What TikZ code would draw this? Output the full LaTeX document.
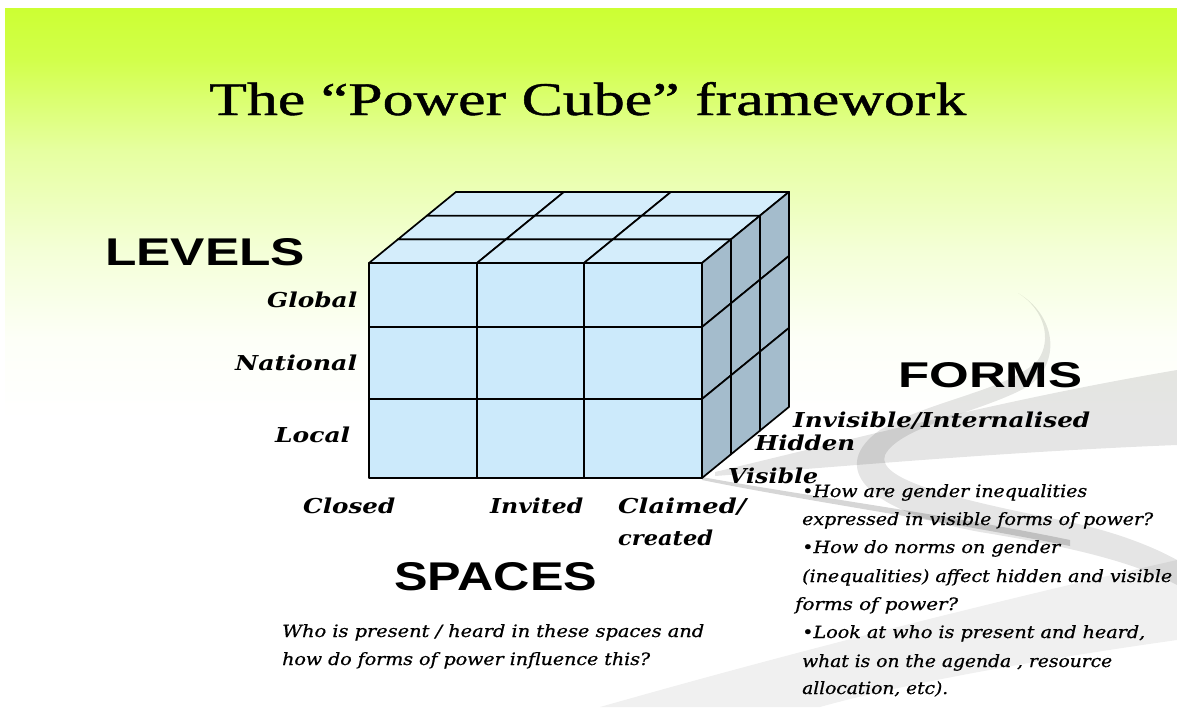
\documentclass[tikz,border=0pt]{standalone}
\usepackage{fontspec}
\usepackage{graphicx}
\setmainfont{Liberation Serif}
\newfontfamily\titlef[FakeBold=0.8]{Liberation Serif}
\newfontfamily\headf{Liberation Sans}
\newfontfamily\labf{DejaVu Serif}
\newfontfamily\txtf[FakeBold=0.7]{DejaVu Serif}
\newcommand\fitw[2]{\resizebox{#1pt}{\height}{#2}}
\newcommand\fitwh[3]{\resizebox{#1pt}{#2pt}{#3}}
\newcommand\lab[1]{{\labf\bfseries\itshape\fontsize{20.5}{24}\selectfont #1}}
\newcommand\txt[1]{{\txtf\itshape\fontsize{17}{20}\selectfont #1}}
\definecolor{bgA}{RGB}{204,255,51}
\definecolor{bgB}{RGB}{210,255,75}
\definecolor{bgC}{RGB}{230,255,160}
\definecolor{bgD}{RGB}{244,255,215}
\definecolor{bgE}{RGB}{253,255,248}
\definecolor{frontc}{RGB}{204,234,251}
\definecolor{topc}{RGB}{212,237,251}
\definecolor{sidec}{RGB}{164,188,204}
\tikzset{
  cellline/.style={draw=black, line width=1.7pt, line join=round},
  frontcell/.style={cellline, fill=frontc},
  topcell/.style={cellline, fill=topc},
  sidecell/.style={cellline, fill=sidec},
  txtline/.style={anchor=base west, inner sep=0pt},
  swoosh/.style={fill=black, fill opacity=0.10},
}
\begin{document}
\begin{tikzpicture}[x=1pt,y=-1pt]
\useasboundingbox (0,0) rectangle (1177,707);
\fill[white] (0,0) rectangle (1177,707);
% background gradient
\shade[top color=bgA, bottom color=bgB] (5,8) rectangle (1177,60.5);
\shade[top color=bgB, bottom color=bgC] (5,60) rectangle (1177,150.5);
\shade[top color=bgC, bottom color=bgD] (5,150) rectangle (1177,250.5);
\shade[top color=bgD, bottom color=bgE] (5,250) rectangle (1177,340.5);
\shade[top color=bgE, bottom color=white] (5,340) rectangle (1177,420);
% swooshes
\fill[swoosh] (715,472) .. controls (850,440) and (1000,400) .. (1177,370) -- (1177,445) .. controls (1000,452) and (850,466) .. (715,476) -- cycle;
\fill[swoosh, fill opacity=0.06] (600,707) .. controls (800,650) and (1000,600) .. (1177,560) -- (1177,640) .. controls (1000,665) and (880,690) .. (820,707) -- cycle;
\fill[swoosh] (1018,293) .. controls (1055,315) and (1062,360) .. (1030,385) .. controls (990,410) and (900,425) .. (885,455) .. controls (875,480) and (960,500) .. (1060,520) .. controls (1110,530) and (1150,545) .. (1177,560) -- (1177,585) .. controls (1130,560) and (1060,545) .. (980,532) .. controls (860,510) and (830,465) .. (880,430) .. controls (930,400) and (1010,390) .. (1038,360) .. controls (1052,340) and (1045,310) .. cycle;
\fill[swoosh, fill opacity=0.16] (702,477) .. controls (800,495) and (950,515) .. (1070,540) -- (1070,546) .. controls (950,522) and (800,500) .. (702,480) -- cycle;
% cube: top face
\foreach \xa/\xb in {369/477,477/584,584/702}{
  \foreach \k in {0,1,2}{
    \filldraw[topcell] ({\xa+\k*29},{263-\k*23.7}) -- ({\xb+\k*29},{263-\k*23.7}) -- ({\xb+\k*29+29},{263-\k*23.7-23.7}) -- ({\xa+\k*29+29},{263-\k*23.7-23.7}) -- cycle;
  }
}
% right face
\foreach \ya/\yb in {263/327,327/399,399/478}{
  \foreach \k in {0,1,2}{
    \filldraw[sidecell] ({702+\k*29},{\ya-\k*23.7}) -- ({702+\k*29+29},{\ya-\k*23.7-23.7}) -- ({702+\k*29+29},{\yb-\k*23.7-23.7}) -- ({702+\k*29},{\yb-\k*23.7}) -- cycle;
  }
}
% front face
\foreach \xa/\xb in {369/477,477/584,584/702}{
  \foreach \ya/\yb in {263/327,327/399,399/478}{
    \filldraw[frontcell] (\xa,\ya) rectangle (\xb,\yb);
  }
}
% title
\node[txtline] (title) at (209,115) {\fitwh{757}{33}{\titlef The “Power Cube” framework}};
% headings
\node[txtline] (levels) at (105,265) {\fitwh{200}{27}{\headf\bfseries LEVELS}};
\node[txtline] (forms) at (898,387) {\fitwh{184}{25}{\headf\bfseries FORMS}};
\node[txtline] (spaces) at (394,590) {\fitwh{203}{28}{\headf\bfseries SPACES}};
% levels
\node[txtline] (global) at (267,307) {\fitw{90}{\lab{Global}}};
\node[txtline] (national) at (235,370) {\fitw{122}{\lab{National}}};
\node[txtline] (local) at (275,442) {\fitw{75}{\lab{Local}}};
% spaces
\node[txtline] (closed) at (303,513) {\fitw{92}{\lab{Closed}}};
\node[txtline] (invited) at (490,513) {\fitw{93}{\lab{Invited}}};
\node[txtline] (claimed) at (618,513) {\fitw{128}{\lab{Claimed/}}};
\node[txtline] (created) at (618,545) {\fitw{95}{\lab{created}}};
% forms
\node[txtline] (invisible) at (793,427) {\fitw{297}{\lab{Invisible/Internalised}}};
\node[txtline] (hidden) at (755,450) {\fitw{100}{\lab{Hidden}}};
\node[txtline] (visible) at (728,483) {\fitw{90}{\lab{Visible}}};
% forms questions
\node[txtline] (q1) at (802,497) {\fitw{285}{\txt{•How are gender inequalities}}};
\node[txtline] (q2) at (802,525) {\fitw{351}{\txt{expressed in visible forms of power?}}};
\node[txtline] (q3) at (802,553) {\fitw{258}{\txt{•How do norms on gender}}};
\node[txtline] (q4) at (802,582) {\fitw{370}{\txt{(inequalities) affect hidden and visible}}};
\node[txtline] (q5) at (795,610) {\fitw{163}{\txt{forms of power?}}};
\node[txtline] (q6) at (802,638) {\fitw{343}{\txt{•Look at who is present and heard,}}};
\node[txtline] (q7) at (802,667) {\fitw{310}{\txt{what is on the agenda , resource}}};
\node[txtline] (q8) at (802,694) {\fitw{146}{\txt{allocation, etc).}}};
% spaces question
\node[txtline] (s1) at (282,637) {\fitw{422}{\txt{Who is present / heard in these spaces and}}};
\node[txtline] (s2) at (282,665) {\fitw{368}{\txt{how do forms of power influence this?}}};
\end{tikzpicture}
\end{document}
